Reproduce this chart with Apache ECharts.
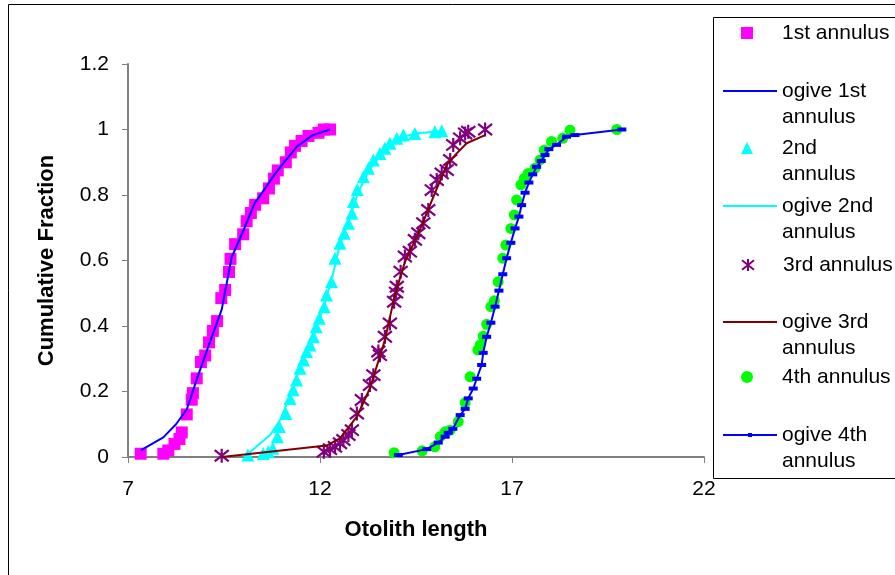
<!DOCTYPE html>
<html>
<head>
<meta charset="utf-8">
<script src="https://cdn.jsdelivr.net/npm/echarts@6/dist/echarts.min.js"></script>
<style>
html,body{margin:0;padding:0;background:#fff;}
#c{width:895px;height:575px;}
</style>
</head>
<body>
<div id="c"></div>
<script>
const seriesNames = ['1st annulus','ogive 1st annulus','2nd annulus','ogive 2nd annulus','3rd annulus','ogive 3rd annulus','4th annulus','ogive 4th annulus'];
const legendLines = [['1st annulus'],['ogive 1st','annulus'],['2nd','annulus'],['ogive 2nd','annulus'],['3rd annulus'],['ogive 3rd','annulus'],['4th annulus'],['ogive 4th','annulus']];
const xTicks = [7, 12, 17, 22];
const yTicks = [0, 0.2, 0.4, 0.6, 0.8, 1, 1.2];

const annulus1 = [[7.33,0.01],[7.92,0.01],[8.05,0.02],[8.21,0.04],[8.34,0.055],[8.40,0.075],[8.53,0.13],[8.66,0.175],[8.69,0.195],[8.79,0.24],[8.90,0.29],[9.01,0.31],[9.11,0.35],[9.21,0.385],[9.32,0.415],[9.43,0.485],[9.53,0.51],[9.63,0.565],[9.67,0.605],[9.79,0.65],[10.00,0.68],[10.09,0.72],[10.20,0.745],[10.31,0.77],[10.52,0.79],[10.67,0.82],[10.80,0.85],[10.90,0.875],[11.11,0.90],[11.24,0.93],[11.35,0.95],[11.52,0.965],[11.70,0.98],[11.96,0.99],[12.10,1.0],[12.26,1.0]];
const ogive1 = [[7.33,0.02],[7.92,0.06],[8.25,0.10],[8.53,0.145],[8.80,0.24],[9.10,0.34],[9.44,0.45],[9.70,0.61],[10.00,0.69],[10.30,0.775],[10.57,0.82],[10.80,0.86],[11.10,0.905],[11.40,0.948],[11.80,0.982],[12.26,1.0]];

const annulus2 = [[10.12,0.006],[10.52,0.011],[10.65,0.016],[10.77,0.027],[10.89,0.062],[10.94,0.093],[11.11,0.133],[11.22,0.179],[11.30,0.205],[11.39,0.235],[11.48,0.271],[11.57,0.296],[11.65,0.322],[11.74,0.342],[11.83,0.367],[11.90,0.398],[11.98,0.424],[12.11,0.459],[12.17,0.495],[12.30,0.535],[12.39,0.607],[12.52,0.653],[12.63,0.683],[12.74,0.714],[12.83,0.744],[12.87,0.78],[12.97,0.817],[13.13,0.856],[13.26,0.882],[13.39,0.907],[13.56,0.927],[13.69,0.943],[13.82,0.958],[14.00,0.973],[14.17,0.983],[14.47,0.988],[14.99,0.993],[15.17,0.996]];
const ogive2 = [[10.12,0.009],[10.70,0.067],[10.96,0.113],[11.20,0.18],[11.50,0.28],[11.80,0.36],[12.10,0.46],[12.30,0.54],[12.50,0.64],[12.80,0.74],[13.00,0.81],[13.30,0.88],[13.70,0.94],[14.10,0.975],[14.47,0.988],[14.99,0.993],[15.17,0.996]];

const annulus3 = [[9.44,0.004],[12.10,0.016],[12.26,0.024],[12.39,0.031],[12.52,0.042],[12.61,0.052],[12.74,0.067],[12.83,0.082],[12.96,0.133],[13.09,0.174],[13.30,0.22],[13.39,0.25],[13.52,0.322],[13.56,0.311],[13.69,0.367],[13.82,0.408],[13.93,0.474],[13.98,0.502],[14.00,0.52],[14.10,0.566],[14.21,0.612],[14.34,0.627],[14.47,0.663],[14.56,0.683],[14.69,0.714],[14.82,0.754],[14.91,0.815],[15.04,0.846],[15.17,0.866],[15.30,0.876],[15.39,0.907],[15.47,0.953],[15.65,0.973],[15.78,0.988],[15.86,0.993],[16.30,1.0]];
const ogive3 = [[9.44,0.0],[12.17,0.035],[12.52,0.057],[12.96,0.123],[13.30,0.21],[13.69,0.357],[13.95,0.495],[14.21,0.595],[14.60,0.693],[14.92,0.785],[15.30,0.892],[15.56,0.927],[15.82,0.958],[16.30,0.983]];

const annulus4 = [[13.93,0.013],[14.66,0.019],[14.99,0.031],[15.13,0.062],[15.26,0.077],[15.39,0.082],[15.60,0.108],[15.78,0.166],[15.91,0.245],[16.11,0.327],[16.17,0.342],[16.25,0.369],[16.34,0.405],[16.45,0.459],[16.54,0.477],[16.64,0.535],[16.76,0.607],[16.84,0.647],[16.97,0.698],[17.06,0.739],[17.12,0.785],[17.23,0.831],[17.32,0.851],[17.42,0.866],[17.60,0.882],[17.73,0.907],[17.84,0.937],[18.03,0.963],[18.32,0.973],[18.51,0.998],[19.73,1.0]];
const ogive4 = [[14.04,0.006],[14.78,0.024],[15.08,0.044],[15.26,0.062],[15.34,0.074],[15.46,0.086],[15.65,0.128],[15.78,0.147],[15.86,0.179],[15.99,0.209],[16.08,0.239],[16.21,0.281],[16.25,0.318],[16.34,0.367],[16.45,0.41],[16.56,0.459],[16.66,0.508],[16.76,0.558],[16.86,0.607],[16.97,0.654],[17.08,0.698],[17.18,0.734],[17.25,0.769],[17.34,0.807],[17.44,0.838],[17.54,0.863],[17.64,0.886],[17.76,0.904],[17.86,0.922],[17.96,0.94],[18.16,0.953],[18.42,0.978],[18.64,0.983],[19.86,1.0]];

const FONT = '"Liberation Sans", Arial, sans-serif';
const asterisk = 'path://M0,1 L10,9 M10,1 L0,9 M5,0 L5,10';

const chart = echarts.init(document.getElementById('c'), null, {renderer: 'canvas'});

const legendIconY = [33, 91, 148, 206, 265, 322, 377, 435];
const legendIsMarker = [true, false, true, false, true, false, true, false];
const LH = 26;
const legends = seriesNames.map((n, i) => {
  const lines = legendLines[i];
  const marker = legendIsMarker[i];
  const two = lines.length > 1;
  const h = two ? LH * 3 : LH;
  const pre = marker ? '{s| }' : '';
  const txt = two ? (' \n' + pre + lines[0] + '\n' + pre + lines[1]) : (pre + lines[0]);
  const lg = {
    left: marker ? 741 : 722, top: legendIconY[i] - h / 2, padding: 0, orient: 'vertical',
    itemWidth: marker ? 12 : 54, itemHeight: marker ? 12 : (i === 7 ? 5 : 12), selectedMode: false,
    data: [{name: n}],
    formatter: () => txt,
    textStyle: {fontFamily: FONT, fontSize: 21, color: '#000', lineHeight: LH,
      rich: {s: {width: 24, fontSize: 21, lineHeight: LH}}}
  };
  if (!marker && i !== 7) lg.itemStyle = {opacity: 0};
  return lg;
});

const option = {
  animation: false,
  backgroundColor: '#fff',
  legend: legends,
  grid: {left: 128, right: 191, top: 64, bottom: 118, containLabel: false},
  xAxis: {
    type: 'value', min: xTicks[0], max: xTicks[xTicks.length - 1], interval: 5,
    name: 'Otolith length', nameLocation: 'middle', nameGap: 62,
    nameTextStyle: {fontFamily: FONT, fontSize: 22, fontWeight: 'bold', color: '#000'},
    axisLine: {show: true, lineStyle: {color: '#808080', width: 2}},
    axisTick: {show: true, inside: false, length: 6, lineStyle: {color: '#808080', width: 1}},
    axisLabel: {fontFamily: FONT, fontSize: 21, color: '#000', margin: 22},
    splitLine: {show: false}
  },
  yAxis: {
    type: 'value', min: yTicks[0], max: yTicks[yTicks.length - 1], interval: 0.2,
    name: 'Cumulative Fraction', nameLocation: 'middle', nameGap: 70,
    nameTextStyle: {fontFamily: FONT, fontSize: 22, fontWeight: 'bold', color: '#000'},
    axisLine: {show: true, lineStyle: {color: '#808080', width: 2}},
    axisTick: {show: true, inside: false, length: 6, lineStyle: {color: '#808080', width: 1}},
    axisLabel: {fontFamily: FONT, fontSize: 21, color: '#000', margin: 19},
    splitLine: {show: false}
  },
  graphic: [
    {type: 'rect', shape: {x: 8.5, y: 4.5, width: 1000, height: 1000}, style: {fill: 'none', stroke: '#000', lineWidth: 1}, z: -10, silent: true},
    {type: 'rect', shape: {x: 713.5, y: 17.5, width: 400, height: 461}, style: {fill: '#fff', stroke: '#000', lineWidth: 1}, z: -5, silent: true}
  ],
  series: [
    {name: seriesNames[0], type: 'scatter', data: annulus1, symbol: 'rect', symbolSize: 12, itemStyle: {color: '#FF00FF', opacity: 1}},
    {name: seriesNames[1], type: 'line', data: ogive1, showSymbol: false, symbol: 'none', lineStyle: {color: '#0000FF', width: 2}, itemStyle: {color: '#0000FF'}},
    {name: seriesNames[2], type: 'scatter', data: annulus2, symbol: 'triangle', symbolSize: 13, itemStyle: {color: '#00FFFF', opacity: 1}},
    {name: seriesNames[3], type: 'line', data: ogive2, showSymbol: false, symbol: 'none', lineStyle: {color: '#00FFFF', width: 2}, itemStyle: {color: '#00FFFF'}},
    {name: seriesNames[4], type: 'scatter', data: annulus3, symbol: asterisk, symbolSize: 14, itemStyle: {color: 'rgba(0,0,0,0)', borderColor: '#800080', borderWidth: 2.2, opacity: 1}},
    {name: seriesNames[5], type: 'line', data: ogive3, showSymbol: false, symbol: 'none', lineStyle: {color: '#800000', width: 2}, itemStyle: {color: '#800000'}},
    {name: seriesNames[6], type: 'scatter', data: annulus4, symbol: 'circle', symbolSize: 11, itemStyle: {color: '#00FF00', opacity: 1}},
    {name: seriesNames[7], type: 'line', data: ogive4, symbol: 'rect', symbolSize: [9, 4], showSymbol: true, lineStyle: {color: '#0000FF', width: 2}, itemStyle: {color: '#0000FF'}}
  ]
};
chart.setOption(option);
</script>
</body>
</html>
